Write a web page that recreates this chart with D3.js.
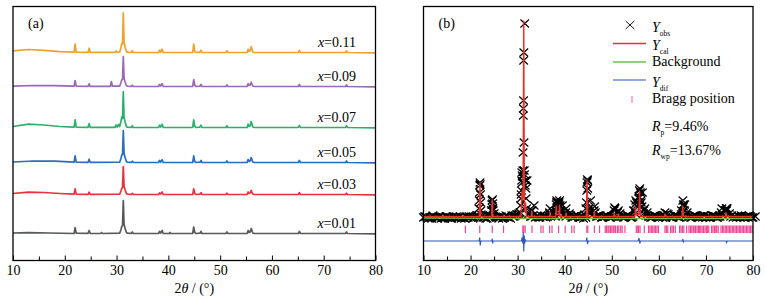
<!DOCTYPE html>
<meta charset="utf-8">
<style>
  body { margin: 0; background: #fff; }
  text { font-family: 'Liberation Serif', 'Times New Roman', Times, serif; fill: #000; }
</style>
<svg width="766" height="303"></svg>
<script src="https://d3js.org/d3.v7.min.js"></script>
<script>
// ---- panel (a): stacked XRD patterns, relative intensity (a.u.) ----
var labels = ["0.01", "0.03", "0.05", "0.07", "0.09", "0.11"];
var colors = ["#58595b", "#e8313a", "#2a6ebb", "#2bb06b", "#9a68b5", "#eda22b"];
var offsets = [27, 66, 98, 133, 174, 208];

var x001 = [[10,0.5],[13,0.8],[17,0.5],[21.8,0],[22.0,6],[22.2,0.3],[24.5,0.2],[24.7,3],[24.9,0.2],[26.9,0],[27.1,1],[27.3,0],[30.6,0.3],[30.85,4],[31.0,7],[31.15,8],[31.3,33],[31.45,9],[31.65,5],[31.9,1],[32.1,0.3],[32.9,0.2],[33.05,1.5],[33.2,0.2],[38.1,0],[38.3,2],[38.5,0.5],[38.8,3],[39.0,0],[40.2,0],[40.3,1],[40.4,0],[44.7,0],[44.9,6.5],[45.1,1],[45.3,0],[46.1,0.3],[46.3,2],[46.5,0],[51.1,0],[51.3,1.5],[51.5,0],[55.2,0],[55.4,3],[55.6,1],[55.8,1.5],[56.0,5],[56.3,0.5],[56.6,0],[65.1,0],[65.3,2],[65.5,0],[74.2,0],[74.4,1.5],[74.6,0],[80,-0.3]];
var x003 = [[10,1],[13,2.3],[16,2],[19,1],[21.8,0.3],[22.0,5.7],[22.2,0.3],[24.5,0.2],[24.7,2.3],[24.9,0.2],[30.6,0.3],[30.85,3.5],[31.0,6],[31.15,7],[31.3,28],[31.45,8],[31.65,4.5],[31.9,1],[32.1,0.3],[32.9,0.2],[33.05,1.2],[33.2,0.2],[38.1,0],[38.3,1.5],[38.5,0.5],[38.8,2.5],[39.0,0],[44.7,0],[44.9,5.7],[45.1,1],[45.3,0],[46.1,0.3],[46.3,1.8],[46.5,0],[51.1,0],[51.3,1.3],[51.5,0],[55.2,0],[55.4,2.5],[55.6,1],[55.8,1.5],[56.0,4],[56.3,0.5],[56.6,0],[65.1,0],[65.3,1.8],[65.5,0],[74.2,0],[74.4,1.3],[74.6,0],[80,-0.3]];
var x005 = [[10,0.5],[14,1.5],[18,1.3],[21.8,0.3],[22.0,6.7],[22.2,0.3],[24.5,0.2],[24.7,3.3],[24.9,0.2],[30.6,0.3],[30.85,4],[31.0,7.5],[31.15,8],[31.3,32],[31.45,9],[31.65,5],[31.9,1],[32.1,0.3],[32.9,0.2],[33.05,1.4],[33.2,0.2],[38.1,0],[38.3,2],[38.5,0.5],[38.8,2.8],[39.0,0],[44.7,0],[44.9,6.7],[45.1,1],[45.3,0],[46.1,0.3],[46.3,2],[46.5,0],[51.1,0],[51.3,1.5],[51.5,0],[55.2,0],[55.4,3],[55.6,1],[55.8,1.5],[56.0,5],[56.3,0.5],[56.6,0],[65.1,0],[65.3,2],[65.5,0],[74.2,0],[74.4,1.5],[74.6,0],[80,-0.3]];
var x007 = [[10,1],[13,3.3],[16,2.5],[19,1],[21.8,0.3],[22.0,7.7],[22.2,0.3],[24.5,0.2],[24.7,4],[24.9,0.2],[29.7,0.2],[29.9,2.5],[30.1,0.5],[30.4,3],[30.6,1],[30.85,6],[31.0,10.7],[31.15,9],[31.3,36],[31.45,10],[31.65,5.5],[31.9,1],[32.1,0.3],[32.9,0.2],[33.05,1.8],[33.2,0.2],[38.1,0],[38.3,2.3],[38.5,0.5],[38.8,3.3],[39.0,0],[44.7,0],[44.9,7.7],[45.1,1],[45.3,0],[46.1,0.3],[46.3,2.3],[46.5,0],[51.1,0],[51.3,1.7],[51.5,0],[55.2,0],[55.4,3.3],[55.6,1],[55.8,1.8],[56.0,6],[56.3,0.5],[56.6,0],[65.1,0],[65.3,2.2],[65.5,0],[74.2,0],[74.4,1.7],[74.6,0],[80,-0.3]];
var x009 = [[10,0.3],[14,1],[18,0.8],[21.8,0.3],[22.0,6],[22.2,0.3],[24.5,0.2],[24.7,2.7],[24.9,0.2],[28.8,0.2],[29.0,5],[29.2,0.3],[30.6,0.3],[30.85,4],[31.0,6.7],[31.15,7],[31.3,30],[31.45,8],[31.65,4.5],[31.9,1],[32.1,0.3],[32.9,0.2],[33.05,1.3],[33.2,0.2],[38.1,0],[38.3,2],[38.5,0.5],[38.8,2.8],[39.0,0],[44.7,0],[44.9,7],[45.1,1],[45.3,0],[46.1,0.3],[46.3,2],[46.5,0],[51.1,0],[51.3,1.5],[51.5,0],[55.2,0],[55.4,2.8],[55.6,1],[55.8,1.5],[56.0,4.3],[56.3,0.5],[56.6,0],[65.1,0],[65.3,2],[65.5,0],[74.2,0],[74.4,1.5],[74.6,0],[80,-0.3]];
var x011 = [[10,1.7],[13,3],[16,2.2],[19,0.8],[21.8,0.3],[22.0,8.3],[22.2,0.3],[24.5,0.2],[24.7,4.3],[24.9,0.2],[29.7,0.2],[29.9,1.5],[30.1,0.3],[30.6,0.5],[30.85,5],[31.0,9],[31.15,8.5],[31.3,39.7],[31.45,10],[31.65,5.5],[31.9,1],[32.1,0.3],[32.9,0.2],[33.05,1.8],[33.2,0.2],[38.1,0],[38.3,2.3],[38.5,0.5],[38.8,3.3],[39.0,0],[44.7,0],[44.9,8.3],[45.1,1],[45.3,0],[46.1,0.3],[46.3,2.3],[46.5,0],[51.1,0],[51.3,1.7],[51.5,0],[55.2,0],[55.4,3.3],[55.6,1],[55.8,1.8],[56.0,6],[56.3,0.5],[56.6,0],[65.1,0],[65.3,2.2],[65.5,0],[74.2,0],[74.4,1.7],[74.6,0],[80,-0.3]];
var patterns = [x001, x003, x005, x007, x009, x011];

// ---- panel (b): Rietveld refinement ----
// observed intensities on a 0.5° grid from 10°, plus the in-between points from 10.25°
var obsGrid = [43,44,42,43,45,43,42,44,43,42,
  44,43,42,43,44,43,42,43,44,43,
  43,42,44,45,78,45,43,42,44,56,
  47,43,42,44,43,45,43,42,44,45,
  46,48,78,237,80,47,44,55,44,43,
  45,44,43,45,44,48,44,47,55,55,
  46,45,47,43,44,45,43,44,42,43,
  50,60,46,48,44,45,43,44,45,43,
  44,45,48,46,44,43,44,45,43,44,
  47,56,56,68,52,48,44,43,45,44,
  43,44,45,43,46,44,43,45,44,43,
  47,56,48,44,43,45,44,43,44,45,
  43,44,43,45,44,43,44,46,50,52,
  47,45,44,43,44,45,43,44,43,44,43,44];
var obsGridMid = [44,43,43,42,44,43,44,42,43,44,
  43,42,44,43,43,44,43,42,43,44,
  44,43,45,52,46,43,42,44,45,52,
  44,43,44,42,43,44,43,45,44,46,
  47,66,160,72,46,44,45,43,44,43,
  44,45,44,47,45,47,58,56,48,45,
  44,46,45,43,44,45,43,44,46,78,
  48,45,50,44,45,43,44,45,44,43,
  44,46,48,47,44,43,45,44,43,50,
  58,64,58,47,45,44,43,44,45,43,
  44,43,45,47,44,43,45,44,43,46,
  54,46,44,43,44,45,43,44,43,45,
  44,43,45,44,43,44,48,45,50,46,
  44,43,44,45,43,44,43,44,45,43];
var obsPeaks = [[21.8,52],[21.85,60],[21.9,68],[21.95,75],[22.05,76],[22.1,66],[22.15,58],[22.2,50],
  [24.4,50],[24.5,56],[24.55,60],[24.65,61],[24.7,57],[24.8,50],
  [30.55,48],[30.6,55],[30.7,62],[30.8,70],[30.85,80],[30.9,88],[30.95,85],[31.05,84],[31.1,90],[31.15,108],[31.2,145],[31.22,152],[31.28,200],[31.32,208],[31.35,118],[31.4,90],[31.45,86],[31.6,75],[31.7,80],[31.8,62],[31.9,52],
  [32.85,50],[33.1,50],[36.8,48],[36.9,52],
  [38.1,50],[38.2,56],[38.3,60],[38.4,58],[38.6,54],[38.8,58],[38.9,60],[39.2,50],[40.2,48],[40.3,52],
  [44.5,52],[44.6,58],[44.7,70],[44.8,81],[44.85,80],[44.9,72],[45.1,52],
  [46.2,50],[46.35,54],[50.5,50],[50.6,53],[50.7,52],[51.4,50],
  [54.6,50],[54.9,56],[55.1,60],[55.3,58],[55.7,62],[55.85,70],[55.95,72],[56.05,68],[56.2,60],[56.4,54],[56.8,50],
  [61.3,48],[64.8,50],[65.1,60],[65.2,56],[65.4,50],[73.4,52],[74.2,50],[74.3,52],[74.4,50]];
var ycal = [[10,44],[21.85,44],[22.0,78],[22.15,44],[24.45,44],[24.6,61],[24.75,44],[30.7,44],[30.85,62],[30.95,70],[31.05,60],[31.15,66],[31.3,240],[31.42,60],[31.55,48],[31.7,58],[31.85,44],[32.9,44],[33.0,50],[33.1,44],[36.8,44],[36.9,49],[37.0,44],[38.1,44],[38.2,55],[38.3,46],[38.8,46],[38.9,56],[39.0,44],[40.2,44],[40.3,48],[40.4,44],[44.6,44],[44.75,81],[44.9,44],[46.2,44],[46.3,50],[46.4,44],[50.4,44],[50.5,48],[50.6,44],[51.3,44],[51.4,47],[51.5,44],[54.9,44],[55.05,54],[55.2,46],[55.75,46],[55.9,70],[56.05,46],[56.2,44],[61.2,44],[61.3,47],[61.4,44],[64.9,44],[65.05,55],[65.2,46],[65.35,44],[74.1,44],[74.3,48],[74.45,44],[80,44]];
var background = [[10,42.5],[30,42],[80,42]];
var ydif = [[10,19.5],[21.8,19.5],[21.95,23],[22.05,15],[22.2,19.5],[24.5,19.5],[24.6,22],[24.7,17],[24.8,19.5],[30.8,19.5],[30.95,23],[31.1,17],[31.2,28],[31.3,9],[31.4,25],[31.5,17],[31.6,21],[31.7,19.5],[44.6,19.5],[44.7,23],[44.85,16.5],[45.0,19.5],[55.6,19.5],[55.8,22.5],[55.95,17],[56.1,19.5],[65.0,19.5],[65.1,21.5],[65.2,18],[65.3,19.5],[74.3,19.5],[74.4,18],[74.5,19.5],[80,19.5]];
var bragg = [18.9,21.95,24.6,27.0,31.1,31.3,31.6,33.05,34.95,35.4,36.8,37.3,38.7,40.1,41.5,42.0,44.7,44.9,46.3,47.4,
  48.6,48.9,49.2,49.4,49.7,50.0,50.3,50.5,50.8,51.2,51.5,51.9,52.2,52.8,
  55.2,55.4,55.7,56.0,56.9,57.8,58.1,58.4,58.7,59.0,59.3,59.6,59.9,61.3,61.6,61.9,62.5,62.8,63.1,63.5,
  64.4,64.7,65.0,65.3,65.9,66.4,66.7,67.0,67.3,67.5,67.8,68.1,68.4,68.6,68.9,69.2,69.5,69.8,70.1,70.3,70.6,71.2,71.5,71.8,72.1,72.3,72.6,73.2,73.5,73.8,74.1,74.4,74.7,75.0,75.3,75.6,75.9,76.2,76.5,76.8,77.1,77.4,77.7,78.0,78.3,78.6,78.9,79.2,79.5,79.8];
var xTicks = [10, 20, 30, 40, 50, 60, 70, 80];
var xMinor = [15, 25, 35, 45, 55, 65, 75];

var svg = d3.select("svg");
var plotTop = 6.5, plotBottom = 260.5;

function frame(x, name) {
  var g = svg.append("g");
  g.append("g")
      .attr("transform", "translate(0," + plotBottom + ")")
      .call(d3.axisBottom(x).tickValues(xMinor).tickSize(-4).tickFormat(""))
      .call(function(s) { s.select(".domain").remove(); });
  var ax = g.append("g")
      .attr("transform", "translate(0," + plotBottom + ")")
      .call(d3.axisBottom(x).tickValues(xTicks).tickSizeInner(-5).tickSizeOuter(0).tickPadding(5));
  ax.select(".domain").remove();
  ax.selectAll("text").attr("font-size", 14);
  g.append("rect")
      .attr("x", x.range()[0]).attr("y", plotTop)
      .attr("width", x.range()[1] - x.range()[0]).attr("height", plotBottom - plotTop)
      .attr("fill", "none").attr("stroke", "#000").attr("stroke-width", 1.3);
  var t = g.append("text")
      .attr("x", (x.range()[0] + x.range()[1]) / 2).attr("y", 293)
      .attr("text-anchor", "middle").attr("font-size", 14);
  t.append("tspan").text("2");
  t.append("tspan").attr("font-style", "italic").text("θ");
  t.append("tspan").text(" / (°)");
  g.append("text").attr("x", x.range()[0] + 15).attr("y", 28).attr("font-size", 14).text(name);
  return g;
}

// panel (a)
var xa = d3.scaleLinear().domain([10, 80]).range([13, 375.5]);
var ya = d3.scaleLinear().domain([0, 254]).range([plotBottom, plotTop]);
var lineA = function(off) {
  return d3.line().x(function(d) { return xa(d[0]); }).y(function(d) { return ya(d[1] + off); });
};
patterns.forEach(function(p, i) {
  svg.append("path").datum(p)
      .attr("fill", "none").attr("stroke", colors[i]).attr("stroke-width", 1.7)
      .attr("stroke-linejoin", "round")
      .attr("d", lineA(offsets[i]));
  var t = svg.append("text").attr("x", 356).attr("y", ya(offsets[i]) - 6)
      .attr("text-anchor", "end").attr("font-size", 14);
  t.append("tspan").attr("font-style", "italic").text("x");
  t.append("tspan").text("=" + labels[i]);
});
frame(xa, "(a)");

// panel (b)
var xb = d3.scaleLinear().domain([10, 80]).range([423.5, 753]);
var yb = d3.scaleLinear().domain([0, 254]).range([plotBottom, plotTop]);
var obs = obsGrid.map(function(v, i) { return [10 + i * 0.5, v]; })
    .concat(obsGridMid.map(function(v, i) { return [10.25 + i * 0.5, v]; }))
    .concat(obsPeaks);
var cross = function(cx, cy) {
  return "M" + (cx - 4.3) + "," + (cy - 4) + "L" + (cx + 4.3) + "," + (cy + 4) +
         "M" + (cx - 4.3) + "," + (cy + 4) + "L" + (cx + 4.3) + "," + (cy - 4);
};
svg.append("path")
    .attr("d", obs.map(function(d) { return cross(xb(d[0]), yb(d[1])); }).join(""))
    .attr("fill", "none").attr("stroke", "#000").attr("stroke-width", 1.15);
var lineB = d3.line().x(function(d) { return xb(d[0]); }).y(function(d) { return yb(d[1]); });
svg.append("path").datum(ycal).attr("d", lineB)
    .attr("fill", "none").attr("stroke", "#e8312b").attr("stroke-width", 1.4);
svg.append("path").datum(background).attr("d", lineB)
    .attr("fill", "none").attr("stroke", "#6cc04a").attr("stroke-width", 1.3);
svg.append("g").selectAll("line").data(bragg).join("line")
    .attr("x1", function(d) { return xb(d); }).attr("x2", function(d) { return xb(d); })
    .attr("y1", yb(35)).attr("y2", yb(27.5))
    .attr("stroke", "#ec4795").attr("stroke-width", 1.2);
svg.append("path").datum(ydif).attr("d", lineB)
    .attr("fill", "none").attr("stroke", "#2b55b5").attr("stroke-width", 1.1);
frame(xb, "(b)");

// legend
var lg = svg.append("g");
lg.append("path").attr("d", cross(630, 25)).attr("stroke", "#000").attr("stroke-width", 0.9);
function yLabel(yb0, sub) {
  var t = lg.append("text").attr("x", 652).attr("y", yb0).attr("font-size", 14);
  t.append("tspan").attr("font-style", "italic").text("Y");
  t.append("tspan").attr("font-size", 7.5).attr("dy", 4).text(sub);
}
yLabel(32, "obs");
lg.append("line").attr("x1", 613).attr("x2", 646).attr("y1", 43.5).attr("y2", 43.5).attr("stroke", "#e8312b").attr("stroke-width", 1.3);
yLabel(50, "cal");
lg.append("line").attr("x1", 613).attr("x2", 646).attr("y1", 62).attr("y2", 62).attr("stroke", "#6cc04a").attr("stroke-width", 1.3);
lg.append("text").attr("x", 652).attr("y", 66).attr("font-size", 14).text("Background");
lg.append("line").attr("x1", 613).attr("x2", 646).attr("y1", 80).attr("y2", 80).attr("stroke", "#2b55b5").attr("stroke-width", 1.1);
yLabel(87, "dif");
lg.append("line").attr("x1", 632).attr("x2", 632).attr("y1", 96).attr("y2", 103).attr("stroke", "#f07ab5").attr("stroke-width", 1.2);
lg.append("text").attr("x", 652).attr("y", 103).attr("font-size", 14).text("Bragg position");
function rLabel(yb0, sub, val) {
  var t = lg.append("text").attr("x", 652).attr("y", yb0).attr("font-size", 14);
  t.append("tspan").attr("font-style", "italic").text("R");
  t.append("tspan").attr("font-size", 7.5).attr("dy", 4).text(sub);
  t.append("tspan").attr("dy", -4).text(val);
}
rLabel(131, "p", "=9.46%");
rLabel(155, "wp", "=13.67%");
</script>
